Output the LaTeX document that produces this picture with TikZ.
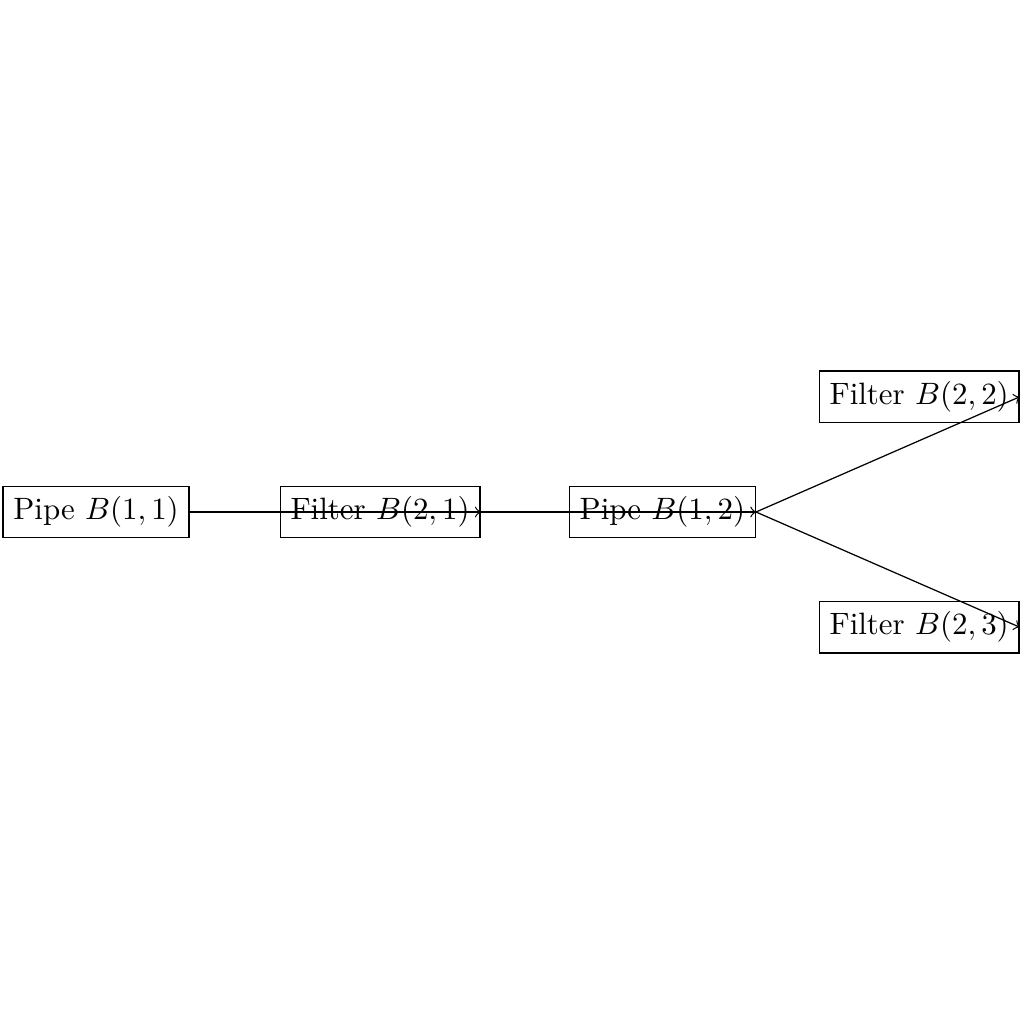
\documentclass[tikz,border=0pt]{standalone}
\usepackage{amssymb,amsmath}
\usepackage{tikz}
\usetikzlibrary{arrows,shapes,calc}
\tikzstyle{block}=[draw,rectangle]
\tikzstyle{edge} = [draw,->]

\begin{document}
\begin{tikzpicture}[auto]
        \node[block] (p11) at (0,0) {Pipe $B(1,1)$};
        \node[block] (f21) at (3.23,0) {Filter $B(2,1)$};
        \node[block] (p12) at (6.44,0) {Pipe $B(1,2)$};
        \node[block] (f22) at (9.36,1.31) {Filter $B(2,2)$};
        \node[block] (f23) at (9.36,-1.31) {Filter $B(2,3)$};
        \draw[edge] (p11.east) to (f21.east);
        \draw[edge] (f21.east) to (p12.east);
        \draw[edge] (p12.east) to (f22.east);
        \draw[edge] (p12.east) to (f23.east);
        \path let \p1=(p11.west), \p2=(f22.east), \n1={(\x2-\x1)/2+1.1pt} in
          [use as bounding box] (\x1-0.8pt,-\n1) rectangle (\x2+1.4pt,\n1);
      \end{tikzpicture}
\end{document}
